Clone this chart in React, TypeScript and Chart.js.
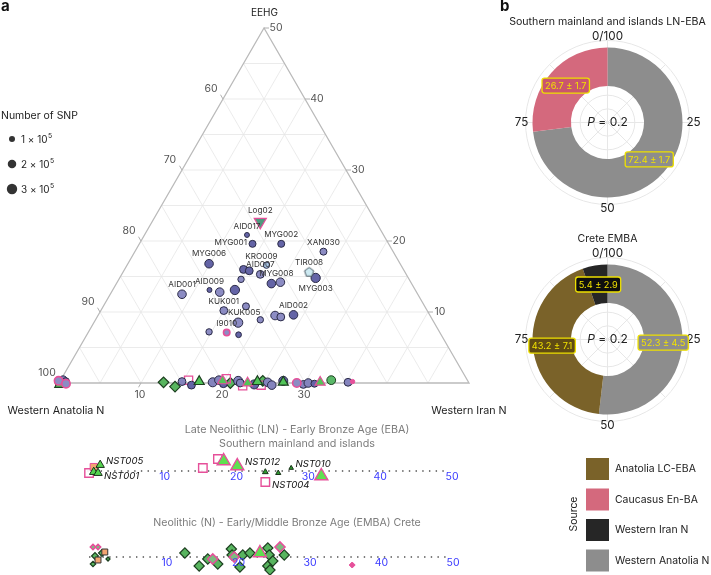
import React, { useEffect, useRef } from "react";
import { Chart, registerables } from "chart.js";
Chart.register(...registerables);

const FONT = "Inter, 'Liberation Sans', sans-serif";
const S3 = Math.sqrt(3) / 2;

// ---------------- Panel a: ternary (values in %: Western Iran N, EEHG; Western Anatolia N = rest)
const sampleNames = ["AID017", "MYG001", "MYG002", "XAN030", "MYG006", "KRO009", "", "", "AID007", "MYG003", "MYG008", "", "", "AID009", "", "", "AID001", "KUK001", "", "", "", "AID002", "KUK005", "", "", ""];
const sampleIran = [12.5, 13.8, 17.3, 23.0, 9.9, 17.0, 14.5, 15.3, 16.9, 23.9, 18.9, 19.9, 14.9, 11.8, 13.2, 14.9, 8.75, 15.0, 17.4, 21.6, 22.4, 23.8, 17.6, 20.1, 14.7, 18.5];
const sampleEehg = [20.85, 19.6, 19.6, 18.5, 16.8, 16.6, 16.0, 15.8, 15.3, 14.8, 14.0, 14.2, 14.6, 13.1, 12.8, 13.1, 12.5, 10.2, 10.8, 9.5, 9.3, 9.6, 8.5, 8.9, 7.2, 6.8];
const sampleSnp = [0.6, 1.2, 1.2, 1.2, 1.8, 1.0, 1.5, 1.5, 1.5, 2.1, 1.8, 1.8, 1.0, 0.6, 1.8, 2.1, 1.8, 1.5, 1.2, 1.8, 1.5, 1.8, 2.1, 1.0, 1.0, 0.8];
const sampleGroup = ["d", "d", "d", "l", "d", "p", "d", "d", "l", "d", "d", "l", "l", "d", "l", "d", "l", "l", "l", "l", "l", "d", "l", "l", "l", "d"];

const log02 = { name: "Log02", iran: 13.2, eehg: 22.7 };
const tir008 = { name: "TIR008", iran: 22.7, eehg: 15.6 };
const i9010 = { name: "I9010", iran: 16.9, eehg: 7.1, snp: 1.0 };

const baseCircIran = [14.9, 16.3, 18.7, 19.3, 20.1, 21.7, 22.1, 23.9, 25.4, 26.1, 27.2, 29.9, 30.4, 31.2, 35.2, 0.3, 0.7, 0.0];
const baseCircEehg = [0.2, -0.3, 0.1, 0.4, -0.1, 0.3, 0.0, -0.2, 0.1, -0.3, 0.3, -0.2, 0.0, -0.1, 0.1, 0.4, 0.2, 0.0];
const baseCircSnp = [1.5, 1.5, 2.0, 1.8, 1.5, 2.0, 1.5, 2.0, 1.8, 1.8, 2.0, 1.5, 1.8, 1.2, 1.5, 1.8, 1.5, 1.5];
const baseDiamIran = [12.7, 14.4, 20.9, 24.7];
const baseDiamEehg = [0.1, -0.5, 0.0, 0.3];
const baseTriIran = [17.0, 19.8, 23.0, 24.1, 27.3, 31.8, 0.2];
const baseTriEehg = [0.2, 0.3, 0.0, 0.2, 0.1, 0.1, -0.2];
const baseSqIran = [15.6, 20.1, 22.6, 24.8];
const baseSqEehg = [0.4, 0.6, -0.4, -0.3];
const baseRingIran = [29.0, -0.2, 0.9];
const baseRingEehg = [0.0, 0.3, -0.1];
const baseGreenIran = [33.0];
const baseGreenEehg = [0.4];
const basePinkIran = [35.7];
const basePinkEehg = [0.2];

const anatoliaTicks = [60, 70, 80, 90, 100];
const eehgTicks = [10, 20, 30, 40, 50];
const iranTicks = [10, 20, 30];
const snpLegend = [1, 2, 3];

// ---------------- Strips (Western Iran N % with vertical jitter)
const stripTicks = [10, 20, 30, 40, 50];
const s1SqX = [-0.55, -0.55, 15.3, 17.4, 24.0];
const s1SqY = [0.9, -0.2, 0.3, 1.2, -1.1];
const s1SqNames = ["", "", "", "", "NST004"];
const s1OrX = [0.1];
const s1OrY = [0.4];
const s1BigTriX = [18.2, 20.1, 31.8];
const s1BigTriY = [1.0, 0.5, -0.5];
const s1BigTriNames = ["", "NST012", ""];
const s1TriX = [1.0, 0.1, 0.7, 24.0, 25.8, 27.6];
const s1TriY = [0.6, -0.1, -0.2, -0.1, -0.2, 0.3];
const s1TriSnp = [2.6, 2.6, 2.6, 1.2, 0.9, 0.6];
const s1TriNames = ["NST005", "", "NST001", "", "", "NST010"];

const s2DiaX = [12.5, 14.5, 15.7, 17.1, 19.0, 19.1, 20.2, 20.6, 21.6, 24.1, 24.3, 24.1, 24.4, 24.8, 26.4, -1.2, -0.07, 0.9, 1.75, -0.35];
const s2DiaY = [0.4, -0.9, -0.2, -0.7, 0.8, 0.2, -1.0, 0.2, 0.4, 0.9, 0.2, -0.9, -1.3, -0.4, 0.2, -0.2, 0.1, 0.4, -0.2, -0.7];
const s2DiaSnp = [3, 3, 3, 3, 3, 3, 3, 3, 3, 3, 3, 3, 3, 3, 3, 1.2, 2, 2, 1.2, 1.6];
const s2PinkX = [16.4, 19.4, 25.8, -0.8, -0.35, 0.35, -0.8];
const s2PinkY = [-0.2, 0.0, 1.0, 0.7, 1.0, 1.0, 0.2];
const s2PinkSnp = [3, 3, 3, 1.6, 1.6, 1.6, 1.6];
const s2SmallPinkX = [35.9, -1.2];
const s2SmallPinkY = [-0.8, -0.9];
const s2OrX = [1.3, 0.35];
const s2OrY = [0.5, -0.3];
const s2TriX = [23.0];
const s2TriY = [0.4];

// ---------------- Panel b: donuts
const sourceNames = ["Anatolia LC-EBA", "Caucasus En-BA", "Western Iran N", "Western Anatolia N"];
const sourceColors = ["#7a6229", "#d4697d", "#262626", "#8d8d8d"];
const boxColors = ["#5f4a14", "#c9556d", "#0e0e0e", "#8d8d8d"];
const d1Sources = ["Western Anatolia N", "Caucasus En-BA"];
const d1Values = [72.4, 26.7];
const d1Err = [1.7, 1.7];
const d2Sources = ["Western Anatolia N", "Anatolia LC-EBA", "Western Iran N"];
const d2Values = [52.3, 43.2, 5.4];
const d2Err = [4.5, 7.1, 2.9];
const compassLabels = ["0/100", "25", "50", "75"];

// ---------------- helpers
function drawText(ctx: any, s: string, x: number, y: number, o: any = {}) {
  const family = o.family || FONT;
  const pre = (o.style ? o.style + " " : "") + (o.weight ? o.weight + " " : "");
  let size = o.size || 11;
  if (o.width) {
    ctx.font = pre + "100px " + family;
    size = (100 * o.width) / ctx.measureText(s).width;
  }
  ctx.font = pre + size + "px " + family;
  ctx.fillStyle = o.color || "#222";
  ctx.textAlign = o.align || "center";
  ctx.textBaseline = o.baseline || "middle";
  ctx.fillText(s, x, y);
  return size;
}
const rOf = (snp: number) => 3.2 * Math.sqrt(snp);

function pentagon(r: number, fill: string, stroke: string) {
  const c = document.createElement("canvas");
  const s = Math.ceil(2 * r + 3);
  c.width = s;
  c.height = s;
  const g = c.getContext("2d")!;
  g.beginPath();
  for (let k = 0; k < 5; k++) {
    const a = -Math.PI / 2 + (k * 2 * Math.PI) / 5;
    const px = s / 2 + r * Math.cos(a), py = s / 2 + r * Math.sin(a);
    if (k === 0) g.moveTo(px, py); else g.lineTo(px, py);
  }
  g.closePath();
  g.fillStyle = fill;
  g.fill();
  g.strokeStyle = stroke;
  g.lineWidth = 0.9;
  g.stroke();
  return c;
}

const baseOpts = (padding: any, scales: any) => ({
  responsive: false,
  animation: false,
  events: [],
  layout: { padding, autoPadding: false },
  scales,
  plugins: { legend: { display: false }, tooltip: { enabled: false }, title: { display: false } },
});

const sds = (o: any) => ({ type: "scatter", showLine: false, clip: false, pointBorderWidth: 1, ...o });

// ---------------- ternary chart
function buildTernary() {
  const tp = (i: number, e: number) => ({ x: i + e / 2, y: e * S3 });
  const mk = (ir: number[], ee: number[]) => ir.map((v, k) => tp(v, ee[k]));
  const groupFill: any = { d: "#6464a6", l: "#8c8cc3", p: "#a8c5e6" };
  const GREEN = "#52c558", DGREEN = "#1d3f20", PINK = "#e6509a", PBORDER = "#2a2a46";
  const datasets: any[] = [
    sds({ order: 1, data: [tp(log02.iran, log02.eehg)], pointStyle: "triangle", pointRotation: 180, pointRadius: 7, pointBackgroundColor: "#4f9a7e", pointBorderColor: PINK, pointBorderWidth: 1.2 }),
    sds({ order: 2, data: [tp(i9010.iran, i9010.eehg)], pointStyle: "circle", pointRadius: rOf(i9010.snp), pointBackgroundColor: "#8c8cc3", pointBorderColor: PINK, pointBorderWidth: 1.6 }),
    sds({ order: 2, data: [tp(tir008.iran, tir008.eehg)], pointStyle: pentagon(4.8, "#cdeaf2", "#3a4a55"), pointRadius: 5 }),
    sds({ order: 3, data: mk(sampleIran, sampleEehg), pointStyle: "circle", pointRadius: sampleSnp.map(rOf), pointBackgroundColor: sampleGroup.map((g) => groupFill[g]), pointBorderColor: PBORDER }),
    sds({ order: 4, data: mk(baseGreenIran, baseGreenEehg), pointStyle: "circle", pointRadius: 4.4, pointBackgroundColor: "#5ab868", pointBorderColor: DGREEN }),
    sds({ order: 4, data: mk(basePinkIran, basePinkEehg), pointStyle: "circle", pointRadius: 2.2, pointBackgroundColor: PINK, pointBorderColor: PINK }),
    sds({ order: 5, data: mk(baseRingIran, baseRingEehg), pointStyle: "circle", pointRadius: 4.2, pointBackgroundColor: "#8c8cc3", pointBorderColor: PINK, pointBorderWidth: 1.6 }),
    sds({ order: 6, data: mk(baseTriIran, baseTriEehg), pointStyle: "triangle", pointRadius: 5.8, pointBackgroundColor: GREEN, pointBorderColor: [DGREEN, PINK, PINK, DGREEN, DGREEN, PINK, DGREEN], pointBorderWidth: 1.2 }),
    sds({ order: 7, data: mk(baseCircIran, baseCircEehg), pointStyle: "circle", pointRadius: baseCircSnp.map(rOf), pointBackgroundColor: baseCircIran.map((_, k) => (k % 3 === 1 ? "#6464a6" : "#8484bd")), pointBorderColor: PBORDER }),
    sds({ order: 8, data: mk(baseSqIran, baseSqEehg), pointStyle: "rect", pointRadius: 5.8, pointBackgroundColor: "rgba(255,255,255,0)", pointBorderColor: PINK, pointBorderWidth: 1.3 }),
    sds({ order: 9, data: mk(baseDiamIran, baseDiamEehg), pointStyle: "rectRot", pointRadius: 5.3, pointBackgroundColor: "#58b55f", pointBorderColor: DGREEN, pointBorderWidth: 1.2 }),
  ];

  const labelDx: any = { KRO009: -5, MYG008: 5, KUK005: 6 };
  const plugin = {
    id: "ternaryDecor",
    beforeDatasetsDraw(chart: any) {
      const { ctx } = chart;
      const xs = chart.scales.x, ys = chart.scales.y;
      const P = (i: number, e: number) => [xs.getPixelForValue(i + e / 2), ys.getPixelForValue(e * S3)];
      const seg = (a: number[], b: number[]) => { ctx.beginPath(); ctx.moveTo(a[0], a[1]); ctx.lineTo(b[0], b[1]); ctx.stroke(); };
      ctx.save();
      ctx.lineWidth = 0.8;
      ctx.strokeStyle = "#e6e6e6";
      for (let k = 5; k < 50; k += 5) {
        seg(P(0, k), P(50 - k, k));
        seg(P(k, 0), P(k, 50 - k));
        seg(P(k, 0), P(0, k));
      }
      ctx.lineWidth = 1.3;
      ctx.strokeStyle = "#bababa";
      const a = P(0, 0), b = P(50, 0), c = P(0, 50);
      ctx.beginPath(); ctx.moveTo(a[0], a[1]); ctx.lineTo(b[0], b[1]); ctx.lineTo(c[0], c[1]); ctx.closePath(); ctx.stroke();
      ctx.lineWidth = 1;
      ctx.strokeStyle = "#b0b0b0";
      const tick = { size: 10.5, color: "#555" };
      for (const an of anatoliaTicks) {
        const p = P(0, 100 - an);
        seg(p, [p[0] - 2.5, p[1] - 4.3]);
        drawText(ctx, String(an), p[0] - 12, p[1] - 10, tick);
      }
      for (const e of eehgTicks) {
        const p = P(50 - e, e);
        seg(p, [p[0] + 5, p[1]]);
        drawText(ctx, String(e), p[0] + 12, p[1], tick);
      }
      for (const i of iranTicks) {
        const p = P(i, 0);
        seg(p, [p[0] - 2.5, p[1] + 4.3]);
        drawText(ctx, String(i), p[0] - 1, p[1] + 12, tick);
      }
      ctx.restore();
    },
    afterDatasetsDraw(chart: any) {
      const { ctx } = chart;
      ctx.save();
      const lab = (name: string, el: any, r: number, pos: string) => {
        if (!name) return;
        const dx = labelDx[name] || 0;
        const o = { size: 8.2, color: "#333" };
        if (pos === "left") drawText(ctx, name, el.x - r - 2, el.y - 1, { ...o, align: "right" });
        else if (pos === "below") drawText(ctx, name, el.x + dx, el.y + r + 6, o);
        else drawText(ctx, name, el.x + dx, el.y - r - 5.5, o);
      };
      const main = chart.getDatasetMeta(3).data;
      sampleNames.forEach((n, k) => lab(n, main[k], rOf(sampleSnp[k]), n === "MYG001" ? "left" : n === "MYG003" ? "below" : "above"));
      lab(log02.name, chart.getDatasetMeta(0).data[0], 6, "above");
      lab(i9010.name, chart.getDatasetMeta(1).data[0], rOf(i9010.snp), "above");
      lab(tir008.name, chart.getDatasetMeta(2).data[0], 4, "above");
      ctx.restore();
    },
    afterDraw(chart: any) {
      const { ctx } = chart;
      ctx.save();
      drawText(ctx, "a", 1, 6, { size: 15, weight: "bold", color: "#111", align: "left" });
      drawText(ctx, "EEHG", 264.5, 13, { width: 27, color: "#222" });
      const fs = drawText(ctx, "Western Anatolia N", 56, 411, { width: 97, color: "#222" });
      drawText(ctx, "Western Iran N", 469, 411, { size: fs, color: "#222" });
      const ls = drawText(ctx, "Number of SNP", 1, 116, { width: 77, color: "#222", align: "left" });
      snpLegend.forEach((v, k) => {
        const y = 139 + k * 25;
        ctx.beginPath();
        ctx.arc(12, y, 3 * Math.sqrt(v), 0, Math.PI * 2);
        ctx.fillStyle = "#333";
        ctx.fill();
        drawText(ctx, v + " \u00d7 10", 21, y + 1, { size: ls * 0.95, color: "#222", align: "left" });
        ctx.font = ls * 0.95 + "px " + FONT;
        const w = ctx.measureText(v + " \u00d7 10").width;
        drawText(ctx, "5", 21 + w + 0.5, y - 3, { size: ls * 0.65, color: "#222", align: "left" });
      });
      ctx.restore();
    },
  };

  return {
    type: "scatter",
    data: { datasets },
    options: baseOpts({ left: 59, right: 51, top: 28, bottom: 37 }, {
      x: { type: "linear", min: 0, max: 50, display: false },
      y: { type: "linear", min: 0, max: 50 * S3, display: false },
    }),
    plugins: [plugin],
  };
}

// ---------------- strips
function stripPlugin(titles: { text: string; y: number; cx: number; width?: number }[], labelSets: { ds: number; names: string[] }[]) {
  return {
    id: "stripDecor",
    afterDatasetsDraw(chart: any) {
      const { ctx } = chart;
      const xs = chart.scales.x, ys = chart.scales.y;
      ctx.save();
      const y0 = ys.getPixelForValue(0);
      for (const t of stripTicks) drawText(ctx, String(t), xs.getPixelForValue(t), y0 + 5.5, { size: 10.5, color: "#3a3aff" });
      let fs = 10.5;
      titles.forEach((t) => {
        if (t.width) fs = drawText(ctx, t.text, t.cx, t.y, { width: t.width, color: "#7c7c7c" });
        else drawText(ctx, t.text, t.cx, t.y, { size: fs, color: "#7c7c7c" });
      });
      for (const ls of labelSets) {
        const meta = chart.getDatasetMeta(ls.ds).data;
        ls.names.forEach((n, k) => {
          if (!n) return;
          const el = meta[k];
          const r = el.options.radius;
          drawText(ctx, n, el.x + r * 0.7 + 2.5, el.y - (n === "NST001" || n === "NST004" ? -3 : 3.5), { size: 9.6, style: "italic", color: "#111", align: "left" });
        });
      }
      ctx.restore();
    },
  };
}

const dotted = (x0: number, x1: number) => ({
  type: "line", order: 50, data: [{ x: x0, y: 0 }, { x: x1, y: 0 }], borderColor: "#505050", borderWidth: 1.5,
  borderDash: [1.4, 5.3], pointRadius: 0, clip: false, fill: false,
});

function buildStrip1() {
  const mk = (xs: number[], ys: number[]) => xs.map((v, k) => ({ x: v, y: ys[k] }));
  const PINK = "#e6509a";
  const datasets: any[] = [
    sds({ order: 1, data: mk(s1TriX, s1TriY), pointStyle: "triangle", pointRadius: s1TriSnp.map((v) => 2 + v * 1.1), pointBackgroundColor: ["#55d34f", "#55d34f", "#55d34f", "#2f9a2f", "#2f9a2f", "#2f9a2f"], pointBorderColor: "#1a331a" }),
    sds({ order: 2, data: mk(s1BigTriX, s1BigTriY), pointStyle: "triangle", pointRadius: 7.5, pointBackgroundColor: "#5fe050", pointBorderColor: PINK, pointBorderWidth: 1.4 }),
    sds({ order: 3, data: mk(s1OrX, s1OrY), pointStyle: "rect", pointRadius: 5, pointBackgroundColor: "#f2a470", pointBorderColor: PINK }),
    sds({ order: 4, data: mk(s1SqX, s1SqY), pointStyle: "rect", pointRadius: 6, pointBackgroundColor: "rgba(255,255,255,0.9)", pointBorderColor: PINK, pointBorderWidth: 1.4 }),
    dotted(-0.8, 49.5),
  ];
  return {
    type: "scatter",
    data: { datasets },
    options: baseOpts({ left: 93, right: 48, top: 31, bottom: 9 }, {
      x: { type: "linear", min: 0, max: 50, display: false },
      y: { type: "linear", min: -2, max: 2, display: false },
    }),
    plugins: [stripPlugin([
      { text: "Southern mainland and islands", y: 23.5, cx: 297, width: 156 },
      { text: "Late Neolithic (LN) - Early Bronze Age (EBA)", y: 10, cx: 297 },
    ], [{ ds: 0, names: s1TriNames }, { ds: 1, names: s1BigTriNames }, { ds: 3, names: s1SqNames }])],
  };
}

function buildStrip2() {
  const mk = (xs: number[], ys: number[]) => xs.map((v, k) => ({ x: v, y: ys[k] }));
  const PINK = "#e6509a";
  const datasets: any[] = [
    sds({ order: 1, data: mk(s2TriX, s2TriY), pointStyle: "triangle", pointRadius: 7.5, pointBackgroundColor: "#5fe050", pointBorderColor: PINK, pointBorderWidth: 1.4 }),
    sds({ order: 2, data: mk(s2SmallPinkX, s2SmallPinkY), pointStyle: "rectRot", pointRadius: 3, pointBackgroundColor: PINK, pointBorderColor: PINK }),
    sds({ order: 3, data: mk(s2OrX, s2OrY), pointStyle: "rect", pointRadius: 4.2, pointBackgroundColor: "#f2a470", pointBorderColor: "#333" }),
    sds({ order: 4, data: mk(s2PinkX, s2PinkY), pointStyle: "rectRot", pointRadius: s2PinkSnp.map((v) => 1.7 * v), pointBackgroundColor: "#7dbb80", pointBorderColor: PINK, pointBorderWidth: 1.5 }),
    sds({ order: 5, data: mk(s2DiaX, s2DiaY), pointStyle: "rectRot", pointRadius: s2DiaSnp.map((v) => 1.7 * v), pointBackgroundColor: "#58b55f", pointBorderColor: "#1d3f20", pointBorderWidth: 1.2 }),
    dotted(-0.9, 49.5),
  ];
  return {
    type: "scatter",
    data: { datasets },
    options: baseOpts({ left: 95.5, right: 47, top: 37, bottom: 0 }, {
      x: { type: "linear", min: 0, max: 50, display: false },
      y: { type: "linear", min: -1.8, max: 2, display: false },
    }),
    plugins: [stripPlugin([{ text: "Neolithic (N) - Early/Middle Bronze Age (EMBA) Crete", y: 23, cx: 287, width: 268 }], [])],
  };
}

// ---------------- donuts
function buildDonut(srcs: string[], vals: number[], errs: number[], title: string, titleWidth: number, padTop: number, padBottom: number, withLegend: boolean) {
  const colorOf = (s: string) => sourceColors[sourceNames.indexOf(s)];
  const boxOf = (s: string) => boxColors[sourceNames.indexOf(s)];
  const plugin = {
    id: "donutDecor",
    beforeDatasetsDraw(chart: any) {
      const { ctx } = chart;
      const a0 = chart.getDatasetMeta(0).data[0];
      const cx = a0.x, cy = a0.y;
      ctx.save();
      ctx.strokeStyle = "#e7e7e7";
      ctx.lineWidth = 1;
      for (let k = 1; k <= 6; k++) { ctx.beginPath(); ctx.arc(cx, cy, (82 / 6) * k, 0, Math.PI * 2); ctx.stroke(); }
      for (let k = 0; k < 8; k++) {
        const ang = (k * Math.PI) / 4;
        ctx.beginPath(); ctx.moveTo(cx, cy); ctx.lineTo(cx + 82 * Math.cos(ang), cy + 82 * Math.sin(ang)); ctx.stroke();
      }
      const fs = drawText(ctx, compassLabels[0], cx, cy - 86, { width: 31, color: "#222" });
      drawText(ctx, compassLabels[1], cx + 86, cy, { size: fs, color: "#222" });
      drawText(ctx, compassLabels[2], cx, cy + 86, { size: fs, color: "#222" });
      drawText(ctx, compassLabels[3], cx - 86, cy, { size: fs, color: "#222" });
      ctx.restore();
    },
    afterDatasetsDraw(chart: any) {
      const { ctx } = chart;
      const arcs = chart.getDatasetMeta(0).data;
      ctx.save();
      arcs.forEach((arc: any, k: number) => {
        const p = arc.getCenterPoint();
        const s = vals[k].toFixed(1) + " \u00b1 " + errs[k].toFixed(1);
        ctx.font = "9.2px " + FONT;
        const w = ctx.measureText(s).width + 6, h = 15;
        ctx.beginPath();
        (ctx as any).roundRect(p.x - w / 2, p.y - h / 2, w, h, 2.5);
        ctx.fillStyle = boxOf(srcs[k]);
        ctx.fill();
        ctx.strokeStyle = "#eee000";
        ctx.lineWidth = 1.3;
        ctx.stroke();
        drawText(ctx, s, p.x, p.y + 0.5, { size: 9.2, color: "#f2e200" });
      });
      const a0 = arcs[0];
      ctx.font = "italic 12px " + FONT;
      const w1 = ctx.measureText("P").width;
      ctx.font = "12px " + FONT;
      const w2 = ctx.measureText(" = 0.2").width;
      const x0 = a0.x - (w1 + w2) / 2;
      drawText(ctx, "P", x0, a0.y, { size: 12, style: "italic", color: "#222", align: "left" });
      drawText(ctx, " = 0.2", x0 + w1, a0.y, { size: 12, color: "#222", align: "left" });
      ctx.restore();
    },
    afterDraw(chart: any) {
      const { ctx } = chart;
      const a0 = chart.getDatasetMeta(0).data[0];
      ctx.save();
      drawText(ctx, title, a0.x, a0.y - 100.5, { width: titleWidth, color: "#222" });
      if (!withLegend) drawText(ctx, "b", 0, 6, { size: 15, weight: "bold", color: "#111", align: "left" });
      if (withLegend) {
        const ox = -500, oy = -215;
        let fs = 11.5;
        sourceNames.forEach((n, k) => {
          const y = 458 + k * 30.5 + oy;
          ctx.fillStyle = sourceColors[k];
          ctx.fillRect(586 + ox, y, 23, 22);
          if (k === 0) fs = drawText(ctx, n, 615 + ox, y + 11, { width: 81, color: "#222", align: "left" });
          else drawText(ctx, n, 615 + ox, y + 11, { size: fs, color: "#222", align: "left" });
        });
        ctx.translate(574 + ox, 514 + oy);
        ctx.rotate(-Math.PI / 2);
        drawText(ctx, "Source", 0, 0, { size: fs, color: "#222" });
      }
      ctx.restore();
    },
  };
  return {
    type: "doughnut",
    data: {
      labels: srcs,
      datasets: [{ data: vals, backgroundColor: srcs.map(colorOf), borderWidth: 0 }],
    },
    options: {
      ...baseOpts({ left: 32.5, right: 28.5, top: padTop, bottom: padBottom }, {}),
      cutout: "48.7%",
    },
    plugins: [plugin],
  };
}

function ChartCanvas({ left, top, width, height, build }: any) {
  const ref = useRef<HTMLCanvasElement | null>(null);
  useEffect(() => {
    if (!ref.current) return;
    const chart = new Chart(ref.current, build());
    return () => chart.destroy();
  }, []);
  return <canvas ref={ref} width={width} height={height} style={{ position: "absolute", left, top, width, height, display: "block" }} />;
}

export default function App() {
  return (
    <div style={{ position: "absolute", left: 0, top: 0, width: 711, height: 575, overflow: "hidden", background: "#fff" }}>
      <ChartCanvas left={0} top={0} width={520} height={420} build={buildTernary} />
      <ChartCanvas left={0} top={420} width={500} height={80} build={buildStrip1} />
      <ChartCanvas left={0} top={500} width={500} height={75} build={buildStrip2} />
      <ChartCanvas left={500} top={0} width={211} height={215} build={() => buildDonut(d1Sources, d1Values, d1Err, "Southern mainland and islands LN-EBA", 197, 47.5, 17.5, false)} />
      <ChartCanvas left={500} top={215} width={211} height={360} build={() => buildDonut(d2Sources, d2Values, d2Err, "Crete EMBA", 60, 49.5, 160.5, true)} />
    </div>
  );
}
